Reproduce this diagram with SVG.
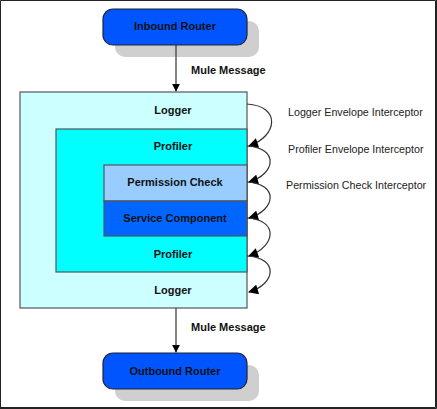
<svg xmlns="http://www.w3.org/2000/svg" width="437" height="409" viewBox="0 0 437 409">
<style>
.b{font-family:"Liberation Sans",Arial,sans-serif;font-weight:bold;font-size:11px;fill:#111;text-anchor:middle;dominant-baseline:central}
.l{font-family:"Liberation Sans",Arial,sans-serif;font-size:10.7px;fill:#222;dominant-baseline:central}
.box{stroke:#555;stroke-width:1.2}
.ln{fill:none;stroke:#333;stroke-width:1.2}
</style>
<defs>
<marker id="ah" viewBox="0 0 10 10" refX="9" refY="5" markerWidth="8" markerHeight="8" markerUnits="userSpaceOnUse" orient="auto"><path d="M0,0L10,5L0,10z" fill="#000"/></marker>
<marker id="ah2" viewBox="0 0 10 10" refX="9" refY="5" markerWidth="12" markerHeight="10" markerUnits="userSpaceOnUse" orient="auto"><path d="M0,0L10,5L0,10z" fill="#000"/></marker>
</defs>
<rect x="0" y="0" width="437" height="409" fill="#fff"/>
<path d="M0.5,409V0.5H435.5V407.5H0" fill="none" stroke="#222" stroke-width="1"/>
<path d="M436.5,0V408.5H0" fill="none" stroke="#222" stroke-width="1"/>
<g id="inbound">
<rect x="115" y="21" width="144" height="36" rx="10" fill="#cfcfcf"/>
<rect x="103" y="9" width="144" height="36" rx="10" fill="#0055ff" stroke="#223" stroke-width="1.2"/>
<text class="b" x="175" y="26">Inbound Router</text>
</g>
<g id="logger">
<rect class="box" x="20" y="92" width="227" height="216" fill="#ccffff"/>
<text class="b" x="173" y="110">Logger</text>
<text class="b" x="173" y="290">Logger</text>
</g>
<g id="profiler">
<rect class="box" x="56" y="129" width="191" height="143" fill="#00ffff"/>
<text class="b" x="173" y="146">Profiler</text>
<text class="b" x="173" y="254">Profiler</text>
</g>
<g id="permission">
<rect class="box" x="104" y="165" width="143" height="36" fill="#99ccff"/>
<text class="b" x="175" y="182">Permission Check</text>
</g>
<g id="service">
<rect class="box" x="104" y="201" width="143" height="35" fill="#0066ff"/>
<text class="b" x="175" y="218">Service Component</text>
</g>
<g id="outbound">
<rect x="115" y="365" width="144" height="36" rx="10" fill="#cfcfcf"/>
<rect x="103" y="353" width="144" height="36" rx="10" fill="#0055ff" stroke="#223" stroke-width="1.2"/>
<text class="b" x="175" y="371">Outbound Router</text>
</g>
<g id="connectors">
<line class="ln" x1="176" y1="45" x2="176" y2="91" marker-end="url(#ah)"/>
<text class="b" x="191" y="70" style="text-anchor:start">Mule Message</text>
<line class="ln" x1="176" y1="308" x2="176" y2="352" marker-end="url(#ah)"/>
<text class="b" x="191" y="327" style="text-anchor:start">Mule Message</text>
<path class="ln" d="M247,104C281,106 278,136 249,146" marker-end="url(#ah2)"/>
<path class="ln" d="M247,146C279,148 276,174 249,182" marker-end="url(#ah2)"/>
<path class="ln" d="M247,182C279,184 276,210 249,218" marker-end="url(#ah2)"/>
<path class="ln" d="M247,218C279,220 276,246 249,256" marker-end="url(#ah2)"/>
<path class="ln" d="M247,256C279,258 276,284 249,292" marker-end="url(#ah2)"/>
<text class="l" x="288" y="112">Logger Envelope Interceptor</text>
<text class="l" x="288" y="149">Profiler Envelope Interceptor</text>
<text class="l" x="286" y="185">Permission Check Interceptor</text>
</g>
</svg>
